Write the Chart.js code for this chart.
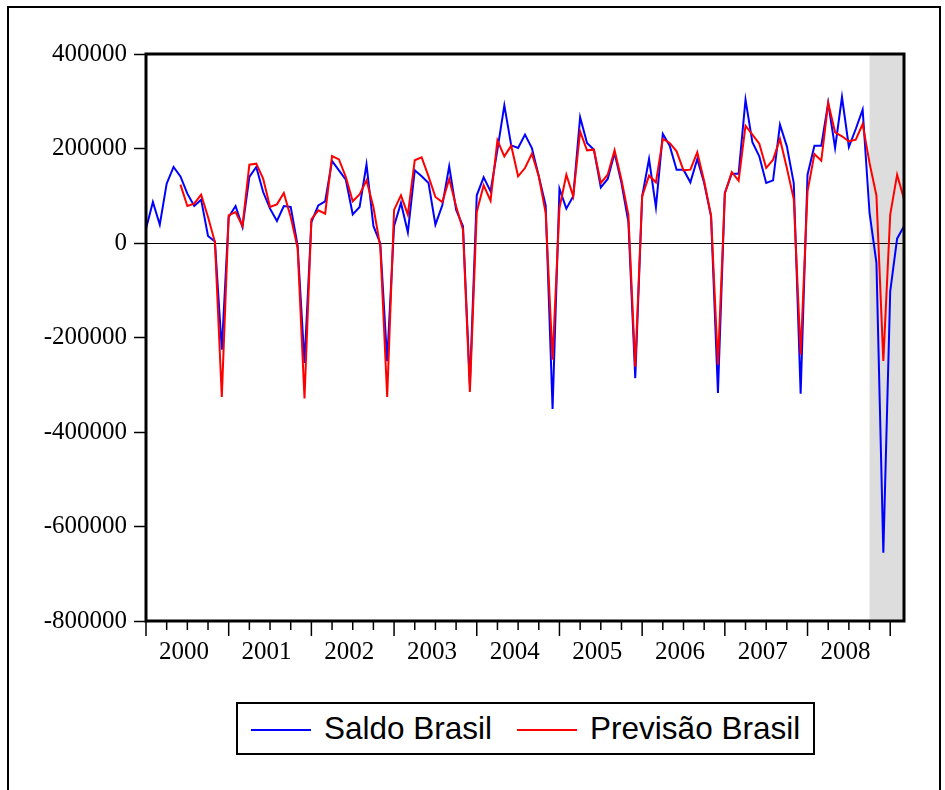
<!DOCTYPE html>
<html>
<head>
<meta charset="utf-8">
<script src="https://cdn.jsdelivr.net/npm/chart.js@4.4.1/dist/chart.umd.min.js"></script>
<style>
  html, body { margin: 0; padding: 0; background: #fff; }
  #wrap { position: relative; width: 945px; height: 790px; overflow: hidden; }
  #chart { position: absolute; left: 0; top: 0; }
  #frame { position: absolute; left: 7px; top: 6px; width: 934px; height: 820px;
           border: 2px solid #000; box-sizing: border-box; pointer-events: none; }
  #legend { position: absolute; left: 236px; top: 702px; width: 579px; height: 53px;
            border: 2px solid #000; box-sizing: border-box; display: flex; align-items: center;
            font-family: "Liberation Sans", Arial, sans-serif; font-size: 31.5px; color: #000;
            background: #fff; white-space: nowrap; }
  #legend .sw { width: 60px; height: 2px; position: relative; top: 1.5px; }
</style>
</head>
<body>
<div id="wrap">
  <div id="frame"></div>
  <canvas id="chart" width="945" height="790"></canvas>
  <div id="legend"></div>
</div>
<script>
// Monthly series, January 2000 to March 2009
const firstYear = 2000;
const monthCount = 111;
const yearLabels = ['2000', '2001', '2002', '2003', '2004', '2005', '2006', '2007', '2008'];
const yTickValues = [400000, 200000, 0, -200000, -400000, -600000, -800000];
const forecastStart = '2008-10';

// Categories: one label per month
const months = [];
for (let i = 0; i < monthCount; i++) {
  const y = firstYear + Math.floor(i / 12);
  const m = (i % 12) + 1;
  months.push(y + '-' + String(m).padStart(2, '0'));
}

// Saldo Brasil (observed)
const saldoBrasil = [
  30300, 86800, 38800, 125600, 160900, 141000, 104400, 78300, 91700, 14800, 3000, -225800,
  55000, 78300, 33900, 139700, 160900, 107900, 72700, 46600, 78300, 76200, -5000, -254000,
  44400, 79700, 88200, 173500, 153800, 134000, 60700, 76200, 166500, 36000, -1000, -250000,
  36000, 84700, 22600, 153800, 141100, 127000, 38800, 79700, 162300, 70500, 35300, -300000,
  100900, 139000, 109300, 197500, 291400, 206700, 201100, 229300, 201100, 141100, 79700, -351000,
  115000, 72700, 98800, 266000, 211700, 197500, 117800, 135500, 190500, 127000, 45000, -286000,
  98800, 177800, 75500, 230700, 206000, 155200, 155200, 128400, 177800, 127000, 56400, -317500,
  105800, 146700, 146700, 303400, 213100, 183400, 127000, 132600, 250400, 204600, 127000, -318900,
  144600, 206000, 206000, 296300, 201100, 309000, 203200, 241300, 282200, 63500, -42000, -655400,
  -102300, 9200, 35300
];

// Previsão Brasil (model forecast)
const previsaoBrasil = [
  null, null, null, null, null, 123500, 78300, 83200, 102300, 55000, 2000, -326000,
  58500, 65600, 36000, 165800, 167900, 136200, 76200, 81800, 105800, 55000, -10000, -329000,
  50000, 69100, 62100, 184100, 177000, 139700, 88200, 103000, 132600, 76200, -8000, -326000,
  70000, 100900, 60000, 175000, 181300, 141100, 97400, 86800, 135500, 77600, 28200, -315000,
  65600, 122000, 89600, 217300, 183400, 206000, 141100, 158700, 189100, 141100, 63500, -247000,
  74100, 144600, 98800, 236300, 196100, 197500, 127000, 144600, 196100, 134000, 60000, -262000,
  98800, 142500, 128400, 220100, 211700, 194000, 153800, 155200, 191900, 130500, 57900, -257500,
  104400, 150300, 131900, 248300, 229300, 210200, 158700, 176400, 220100, 158700, 93100, -236300,
  109300, 188400, 174300, 296300, 234200, 225800, 215200, 218700, 251900, 169300, 100200, -249700,
  60000, 144600, 93100
];

const shadeIndex = months.indexOf(forecastStart);
const serif = '"Liberation Serif", "Times New Roman", serif';

// Gray forecast window, quarter/year tick marks and the heavy plot frame
const decor = {
  id: 'decor',
  beforeDraw(chart) {
    const { ctx, chartArea: a, scales: { x } } = chart;
    const x0 = x.getPixelForValue(shadeIndex);
    ctx.save();
    ctx.fillStyle = '#dddddd';
    ctx.fillRect(x0, a.top, a.right - x0, a.bottom - a.top);
    ctx.restore();
  },
  afterDraw(chart) {
    const { ctx, chartArea: a, scales: { x } } = chart;
    ctx.save();
    ctx.strokeStyle = '#000';
    ctx.lineWidth = 1.5;
    for (let i = 0; i < months.length; i += 3) {
      const px = x.getPixelForValue(i);
      const len = (i % 12 === 0) ? 15 : 9;
      ctx.beginPath();
      ctx.moveTo(px, a.bottom);
      ctx.lineTo(px, a.bottom + len);
      ctx.stroke();
    }
    ctx.lineWidth = 3;
    ctx.strokeRect(a.left, a.top, a.right - a.left, a.bottom - a.top);
    ctx.restore();
  }
};

const toPoints = arr => arr.map((v, i) => ({ x: i, y: v }));

const chart = new Chart(document.getElementById('chart'), {
  type: 'line',
  data: {
    datasets: [
      { label: 'Saldo Brasil', data: toPoints(saldoBrasil), borderColor: '#0000ff',
        borderWidth: 2, pointRadius: 0, tension: 0, fill: false, order: 1 },
      { label: 'Previsão Brasil', data: toPoints(previsaoBrasil), borderColor: '#ff0000',
        borderWidth: 2, pointRadius: 0, tension: 0, fill: false, order: 0, spanGaps: false }
    ]
  },
  options: {
    responsive: false,
    animation: false,
    devicePixelRatio: 1,
    layout: { padding: { left: 0, right: 41, top: 54, bottom: 0 } },
    plugins: { legend: { display: false }, tooltip: { enabled: false } },
    scales: {
      x: {
        type: 'linear',
        min: 0,
        max: months.length - 1,
        afterBuildTicks: s => { s.ticks = yearLabels.map((_, k) => ({ value: 12 * k + 5.5 })); },
        afterFit: s => { s.height = 169; },
        ticks: {
          callback: (v, i) => yearLabels[i],
          font: { family: serif, size: 25 },
          color: '#000',
          padding: 16,
          maxRotation: 0,
          autoSkip: false
        },
        grid: { display: false, drawTicks: false },
        border: { display: false }
      },
      y: {
        min: -800000,
        max: 400000,
        afterBuildTicks: s => { s.ticks = yTickValues.map(v => ({ value: v })); },
        afterFit: s => { s.width = 146; },
        ticks: {
          callback: v => String(v),
          font: { family: serif, size: 25 },
          color: '#000',
          padding: 7
        },
        grid: {
          color: c => (c.tick && c.tick.value === 0) ? '#000' : 'rgba(0,0,0,0)',
          lineWidth: 1,
          tickColor: '#000',
          tickLength: 12,
          tickWidth: 1.5
        },
        border: { display: false }
      }
    }
  },
  plugins: [decor]
});

// Legend box built from the chart's datasets
const legend = document.getElementById('legend');
const gaps = [[13, 13], [25, 13]];
chart.data.datasets.forEach((ds, k) => {
  const sw = document.createElement('span');
  sw.className = 'sw';
  sw.style.background = ds.borderColor;
  sw.style.marginLeft = gaps[k][0] + 'px';
  const tx = document.createElement('span');
  tx.textContent = ds.label;
  tx.style.marginLeft = gaps[k][1] + 'px';
  legend.appendChild(sw);
  legend.appendChild(tx);
});
</script>
</body>
</html>
